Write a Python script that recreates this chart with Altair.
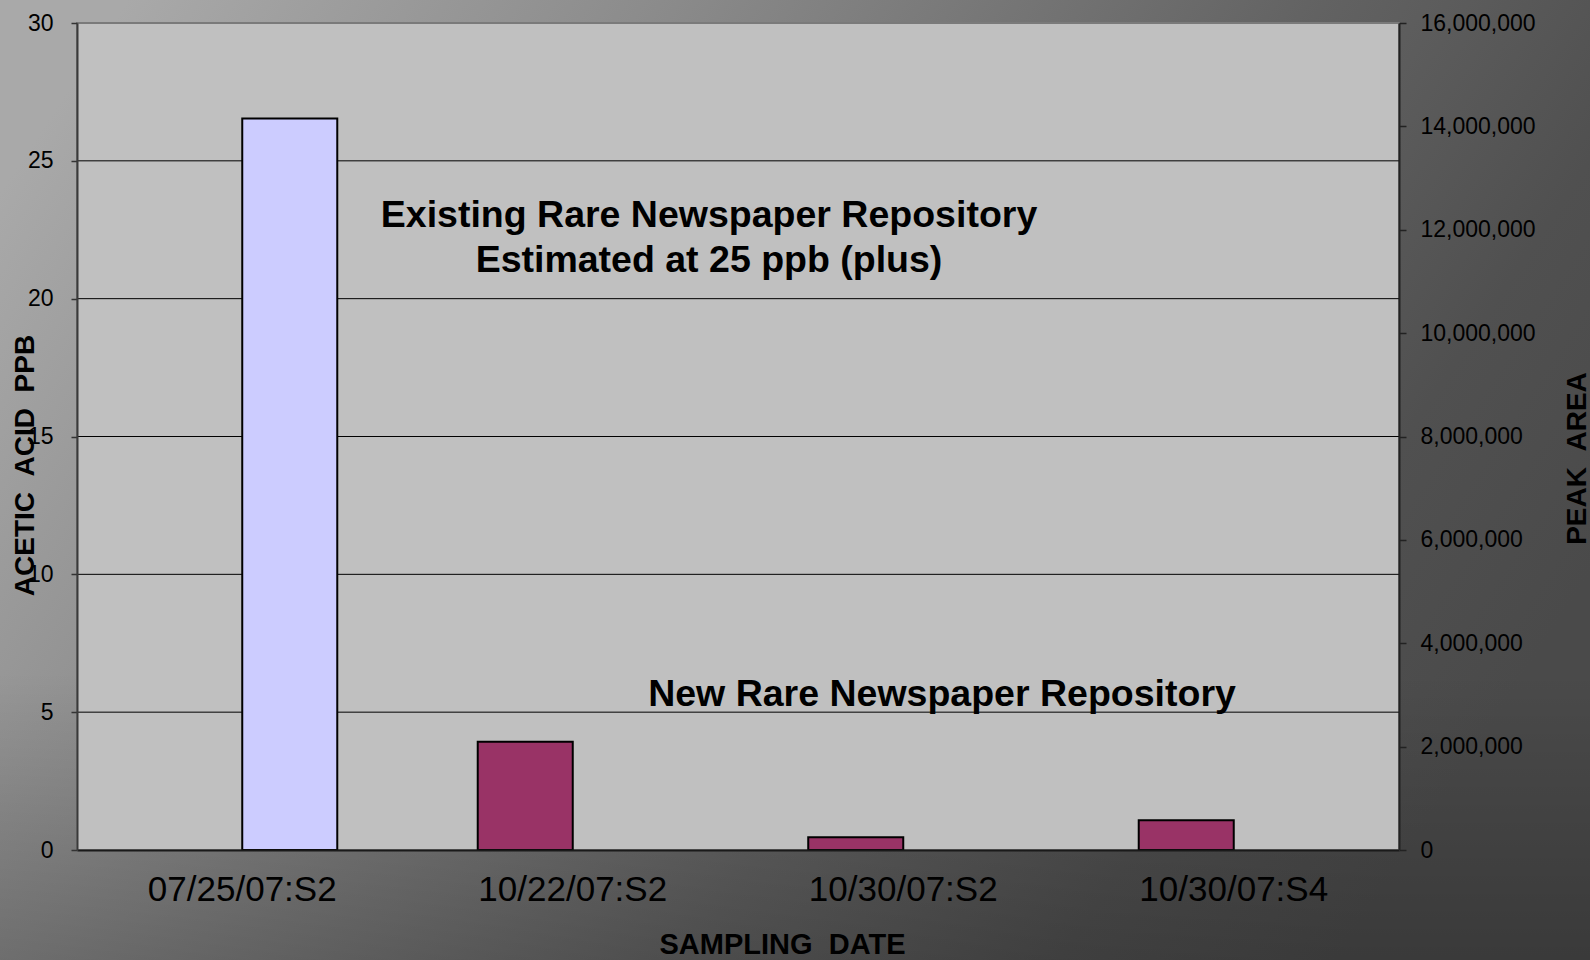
import altair as alt
import pandas as pd

# Sampling dates (x categories)
sampling_dates = ["07/25/07:S2", "10/22/07:S2", "10/30/07:S2", "10/30/07:S4"]

# Acetic acid concentration (ppb), left axis
ppb_dates = ["10/22/07:S2", "10/30/07:S2", "10/30/07:S4"]
ppb_values = [3.93, 0.46, 1.08]

# Peak area, right axis
area_dates = ["07/25/07:S2"]
area_values = [14150000]

# Left-axis ticks and gridlines
ppb_ticks = [0, 5, 10, 15, 20, 25, 30]
ppb_grid = [5, 10, 15, 20, 25]
area_ticks = [0, 2000000, 4000000, 6000000, 8000000, 10000000, 12000000, 14000000, 16000000]

W, H = 1322, 827
FONT = "Liberation Sans"

ppb_df = pd.DataFrame({"date": ppb_dates, "ppb": ppb_values, "series": "ppb"})
area_df = pd.DataFrame({"date": area_dates, "area": area_values, "series": "area"})
grid_df = pd.DataFrame({"ppb": ppb_grid})
one = pd.DataFrame({"k": [0]})

x_enc = alt.X(
    "date:N",
    sort=sampling_dates,
    scale=alt.Scale(domain=sampling_dates, paddingInner=0.425, paddingOuter=0.2125),
    axis=alt.Axis(
        title="SAMPLING \u00a0DATE",
        titleFont=FONT, titleFontSize=29, titleFontWeight="bold", titleColor="black",
        titleX=705, titleY=94, titleAlign="center", titleBaseline="middle",
        labelFont=FONT, labelFontSize=35, labelColor="black", labelAngle=0,
        labelPadding=22, labelLimit=0, ticks=False,
        domainColor="#1a1a1a", domainWidth=2, grid=False, zindex=1,
    ),
)
xoff_enc = alt.XOffset(
    "series:N",
    scale=alt.Scale(domain=["ppb", "area"], paddingInner=0, paddingOuter=0),
)

ppb_scale = alt.Scale(domain=[0, 30], nice=False, zero=True)
ppb_axis = alt.Axis(
    orient="left",
    values=ppb_ticks,
    title="ACETIC \u00a0ACID \u00a0PPB",
    titleFont=FONT, titleFontSize=28, titleFontWeight="bold", titleColor="black",
    titleAngle=270, titleX=-52, titleY=442, titleAlign="center", titleBaseline="middle",
    labelFont=FONT, labelFontSize=23, labelColor="black", labelPadding=18,
    tickSize=6, tickColor="#333333", tickWidth=1.5,
    domainColor="#3a3a3a", domainWidth=2, grid=False, zindex=1,
)
y_ppb = alt.Y("ppb:Q", scale=ppb_scale, axis=ppb_axis)

area_axis = alt.Axis(
    orient="right",
    values=area_ticks,
    format=",.0f",
    title="PEAK \u00a0AREA",
    titleFont=FONT, titleFontSize=28, titleFontWeight="bold", titleColor="black",
    titleAngle=270, titleX=178, titleY=435, titleAlign="center", titleBaseline="middle",
    labelFont=FONT, labelFontSize=23, labelColor="black", labelPadding=14, labelLimit=0,
    tickSize=7, tickColor="#222222", tickWidth=1.5,
    domainColor="#222222", domainWidth=2, grid=False, zindex=1,
)

# Slide-style grey background behind the whole chart
backdrop = alt.Chart(one).mark_rect(
    fill=alt.LinearGradient(
        gradient="linear", x1=0, y1=0.2, x2=1, y2=0.6,
        stops=[
            alt.GradientStop(offset=0, color="#a9a9a9"),
            alt.GradientStop(offset=0.3, color="#8a8a8a"),
            alt.GradientStop(offset=0.65, color="#626262"),
            alt.GradientStop(offset=0.85, color="#505050"),
            alt.GradientStop(offset=1, color="#4a4a4a"),
        ],
    )
).encode(x=alt.value(-77), x2=alt.value(1513), y=alt.value(-23), y2=alt.value(937))

shade = alt.Chart(one).mark_rect(
    fill=alt.LinearGradient(
        gradient="linear", x1=0, y1=0, x2=0, y2=1,
        stops=[
            alt.GradientStop(offset=0, color="rgba(0,0,0,0)"),
            alt.GradientStop(offset=0.7, color="rgba(0,0,0,0)"),
            alt.GradientStop(offset=1, color="rgba(0,0,0,0.22)"),
        ],
    )
).encode(x=alt.value(-77), x2=alt.value(1513), y=alt.value(-23), y2=alt.value(937))

# Plot area panel
panel = alt.Chart(one).mark_rect(
    fill="#c0c0c0", stroke="#7a7a7a", strokeWidth=2
).encode(x=alt.value(0), x2=alt.value(W), y=alt.value(0), y2=alt.value(H))

grid = alt.Chart(grid_df).mark_rule(color="black", strokeWidth=1).encode(
    y=y_ppb, x=alt.value(0), x2=alt.value(W)
)

ppb_bars = alt.Chart(ppb_df).mark_bar(
    color="#993366", stroke="black", strokeWidth=2
).encode(x=x_enc, xOffset=xoff_enc, y=y_ppb)

area_bars = alt.Chart(area_df).mark_bar(
    color="#ccccff", stroke="black", strokeWidth=2
).encode(
    x=x_enc,
    xOffset=xoff_enc,
    y=alt.Y("area:Q", scale=alt.Scale(domain=[0, 16000000], nice=False), axis=area_axis),
)

existing_note = alt.Chart(one).mark_text(
    text=["Existing Rare Newspaper Repository", "Estimated at 25 ppb (plus)"],
    font=FONT, fontSize=37.5, fontWeight="bold", color="black",
    align="center", baseline="middle", lineHeight=45,
).encode(x=alt.value(632), y=alt.value(193))

new_note = alt.Chart(one).mark_text(
    text="New Rare Newspaper Repository",
    font=FONT, fontSize=37.5, fontWeight="bold", color="black",
    align="center", baseline="middle",
).encode(x=alt.value(865), y=alt.value(672))

ppb_layer = alt.layer(grid, ppb_bars)

chart = (
    alt.layer(backdrop, shade, panel, ppb_layer, area_bars, existing_note, new_note)
    .resolve_scale(y="independent")
    .properties(
        width=W,
        height=H,
        autosize=alt.AutoSizeParams(type="none"),
        padding={"left": 77, "top": 23, "right": 191, "bottom": 110},
        background="#4a4a4a",
    )
    .configure_view(stroke=None)
)

chart.save("out.html", embed_options={"renderer": "svg", "actions": False})
